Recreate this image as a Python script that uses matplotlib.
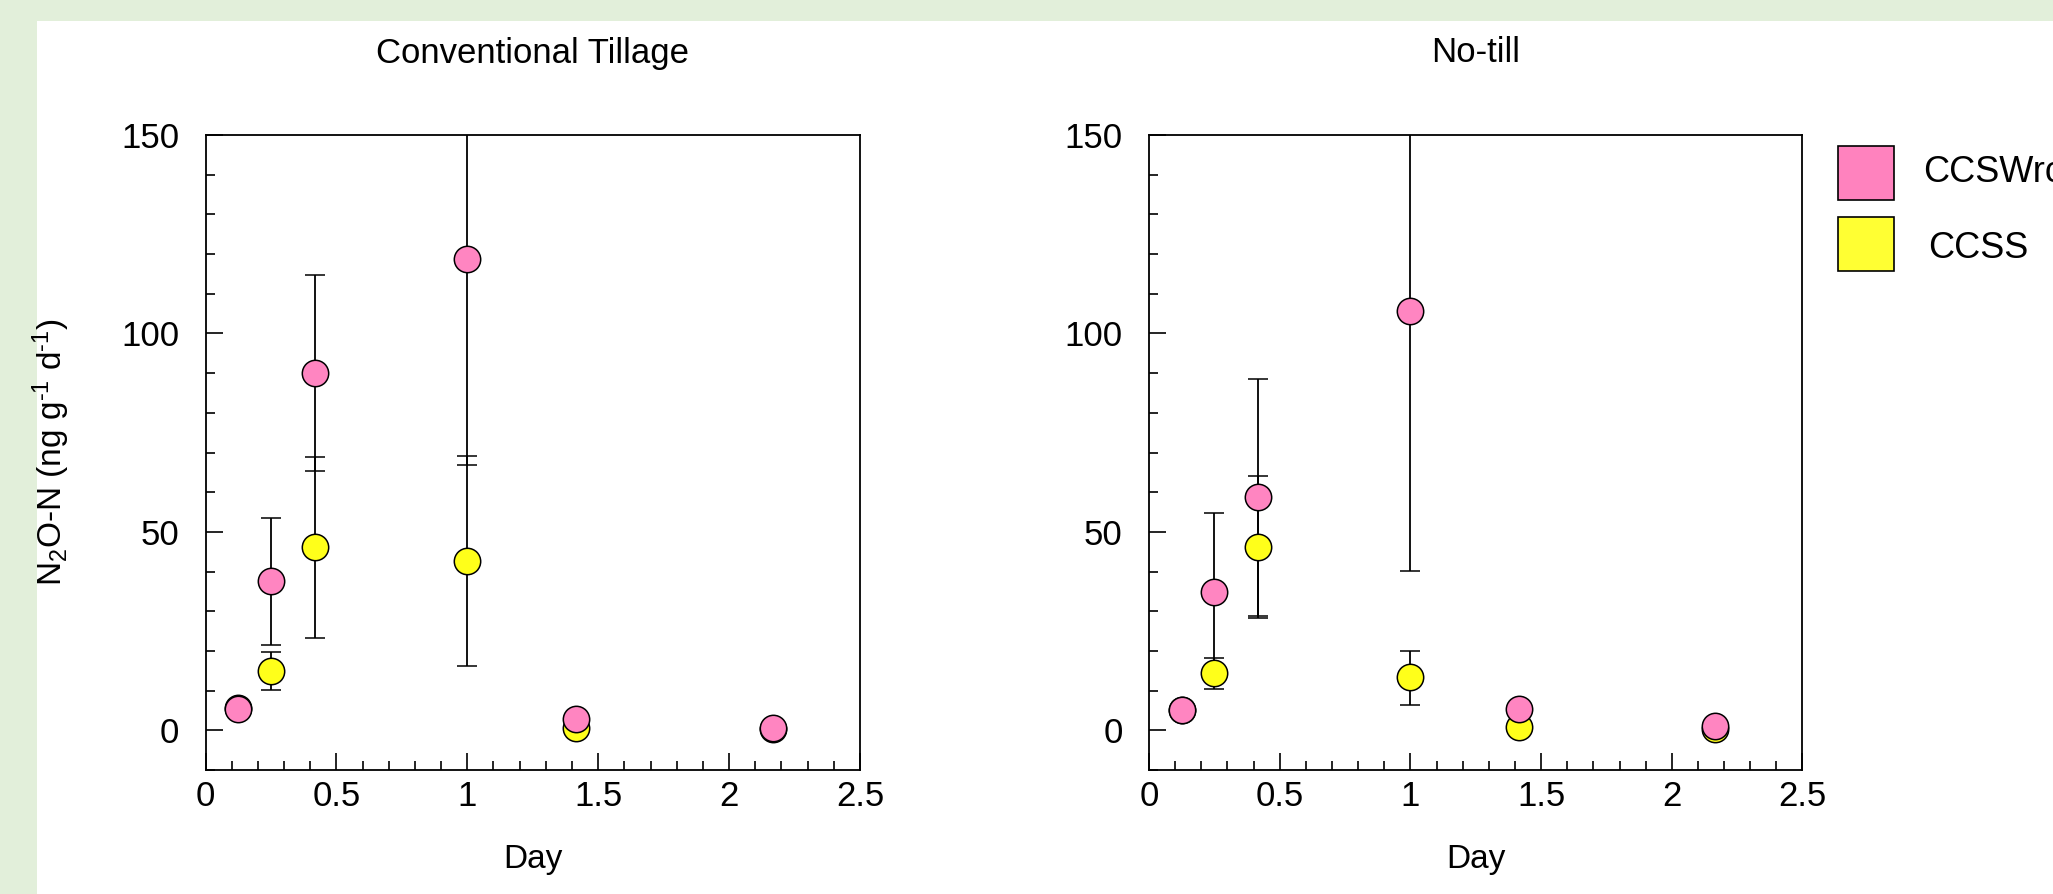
import numpy as np
import matplotlib
matplotlib.use('Agg')
import matplotlib.pyplot as plt
from matplotlib.patches import Rectangle
from matplotlib.ticker import MultipleLocator

plt.rcParams['font.family'] = ['Liberation Sans', 'DejaVu Sans']
plt.rcParams['mathtext.fontset'] = 'custom'
plt.rcParams['mathtext.rm'] = 'Liberation Sans'
plt.rcParams['mathtext.it'] = 'Liberation Sans'

# data (days after event)
days = [0.125, 0.25, 0.417, 1.0, 1.417, 2.167]

# Conventional tillage
ct_ccswr = [5.4, 37.6, 90.1, 118.8, 2.9, 0.6]
ct_ccswr_low = [5.4, 21.4, 65.3, 66.8, 2.9, 0.6]
ct_ccswr_high = [5.4, 53.6, 114.8, 175.0, 2.9, 0.6]
ct_ccss = [5.6, 15.0, 46.2, 42.7, 0.7, 0.3]
ct_ccss_low = [5.6, 10.1, 23.2, 16.1, 0.7, 0.3]
ct_ccss_high = [5.6, 19.7, 68.9, 69.0, 0.7, 0.3]

# No-till
nt_ccswr = [5.0, 34.8, 58.7, 105.6, 5.4, 1.2]
nt_ccswr_low = [5.0, 15.8, 28.9, 40.2, 5.4, 1.2]
nt_ccswr_high = [5.0, 54.8, 88.6, 175.0, 5.4, 1.2]
nt_ccss = [5.0, 14.4, 46.3, 13.4, 0.9, 0.3]
nt_ccss_low = [5.0, 10.5, 28.4, 6.5, 0.9, 0.3]
nt_ccss_high = [5.0, 18.2, 64.2, 20.0, 0.9, 0.3]

series_names = ['CCSWrc', 'CCSS']

PINK = '#FF85C1'
YELLOW = '#FFFF1A'
W, H = 2053, 894

fig = plt.figure(figsize=(W / 100, H / 100), dpi=100)
fig.patch.set_facecolor('#E2EFDA')
fig.patches.append(Rectangle((37 / W, 0), 1, 1 - 21 / H, transform=fig.transFigure,
                             facecolor='white', edgecolor='none', zorder=-5))

ax1 = fig.add_axes([205.5 / W, 1 - 770 / H, 654.5 / W, 635 / H])
ax2 = fig.add_axes([1149 / W, 1 - 770 / H, 653.5 / W, 635 / H])


def err(y, lo, hi):
    y = np.array(y)
    return [y - np.array(lo), np.array(hi) - y]


def panel(ax, title, y1, lo1, hi1, y2, lo2, hi2):
    # yellow first so the pink series sits on top
    for y, lo, hi, c in [(y2, lo2, hi2, YELLOW), (y1, lo1, hi1, PINK)]:
        ax.errorbar(days, y, yerr=err(y, lo, hi), fmt='o', color='black', ecolor='black',
                    elinewidth=1.3, capsize=7.5, capthick=1.3, markersize=19,
                    markerfacecolor=c, markeredgecolor='black', markeredgewidth=1.1)
    ax.set_xlim(0, 2.5)
    ax.set_ylim(-10, 150)
    ax.xaxis.set_minor_locator(MultipleLocator(0.1))
    ax.yaxis.set_major_locator(MultipleLocator(50))
    ax.yaxis.set_minor_locator(MultipleLocator(10))
    ax.set_xticks([0, 0.5, 1, 1.5, 2, 2.5])
    ax.set_xticklabels(['0', '0.5', '1', '1.5', '2', '2.5'])
    ax.tick_params(which='both', direction='in', top=False, right=False, width=1.2)
    ax.tick_params(which='major', length=12, labelsize=25)
    ax.tick_params(which='minor', length=6.5)
    ax.tick_params(axis='y', which='major', pad=19)
    ax.tick_params(axis='x', which='major', pad=7.5)
    for s in ax.spines.values():
        s.set_linewidth(1.3)
    ax.set_xlabel('Day', fontsize=24, labelpad=22)
    ax.text(0.5, 1 + 82 / 635, title, transform=ax.transAxes, ha='center', va='center',
            fontsize=25)


panel(ax1, 'Conventional Tillage', ct_ccswr, ct_ccswr_low, ct_ccswr_high,
      ct_ccss, ct_ccss_low, ct_ccss_high)
panel(ax2, 'No-till', nt_ccswr, nt_ccswr_low, nt_ccswr_high,
      nt_ccss, nt_ccss_low, nt_ccss_high)

# the original uses a plain hyphen in the exponents
ax1.set_ylabel('$\\mathregular{N_2O}$-N (ng g$\\mathregular{^{\u20101}}$ d$\\mathregular{^{\u20101}}$)',
               fontsize=24)
ax1.yaxis.set_label_coords(-0.204, 0.5)

# legend drawn by hand on the right, text runs past the figure edge like the original
text_x = [1923, 1928]
for i, (name, c) in enumerate(zip(series_names, ['#FF82BE', '#FFFF33'])):
    top = 146 + i * 71
    fig.patches.append(Rectangle((1838 / W, 1 - (top + 54) / H), 56 / W, 54 / H,
                                 transform=fig.transFigure, facecolor=c,
                                 edgecolor='black', linewidth=1.2))
    fig.text(text_x[i] / W, 1 - (top + 26 + i * 6) / H, name, ha='left', va='center',
             fontsize=26)

fig.savefig('out.png', dpi=100, facecolor=fig.get_facecolor())
